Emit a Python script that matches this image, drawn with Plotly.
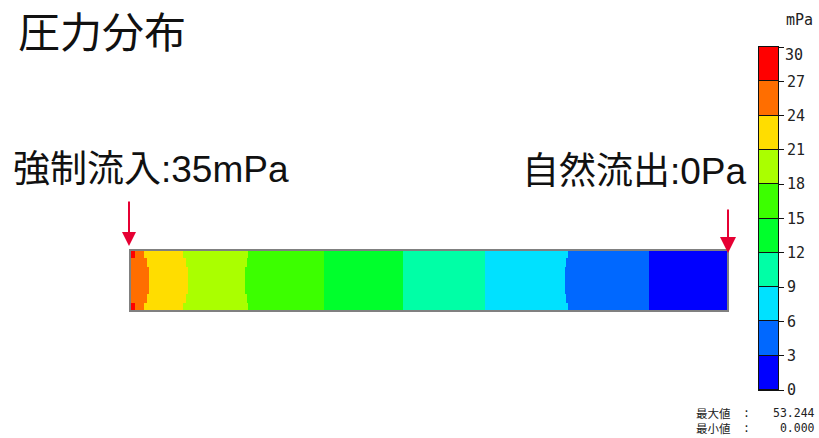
import plotly.graph_objects as go

W, H = 819, 438

# ---------------- data ----------------
# pressure bands (lower bound, mPa) and their colours
band_lo = [0, 3, 6, 9, 12, 15, 18, 21, 24, 27]
band_colors = ["#0000FF", "#0068FF", "#00E1FF", "#00FFA6", "#00FF2C",
               "#3CFF00", "#AAFF00", "#FFDD00", "#FF6E00", "#FF0000"]
tick_vals = [0, 3, 6, 9, 12, 15, 18, 21, 24, 27, 30]
tick_text = ["0", "3", "6", "9", "12", "15", "18", "21", "24", "27", ""]
band_step = 3

# channel (mm): row edges across the height
chan_len = 200
row_edges = [0, 2.3, 5.5, 14.5, 17.7, 20]
# per row: end position (mm) of each pressure band along the channel, and band lower bound
corner_ends = [1.5, 4.2, 17.6, 39.1, 64.6, 91.4, 118.9, 146.5, 173.7, 200]
corner_bands = [27, 24, 21, 18, 15, 12, 9, 6, 3, 0]
edge_ends = [5.2, 18.3, 38.8, 64.6, 91.4, 118.9, 146.1, 173.7, 200]
edge_bands = [24, 21, 18, 15, 12, 9, 6, 3, 0]
mid_ends = [6.2, 19.0, 38.4, 64.6, 91.4, 118.9, 145.5, 173.7, 200]
mid_bands = [24, 21, 18, 15, 12, 9, 6, 3, 0]
rows = [(corner_ends, corner_bands), (edge_ends, edge_bands), (mid_ends, mid_bands),
        (edge_ends, edge_bands), (corner_ends, corner_bands)]

stat_labels = ["最大値", "最小値"]
stat_values = ["53.244", "0.000"]

# ---------------- build grid ----------------
x_edges = sorted(set([0.0] + corner_ends + edge_ends + mid_ends))
z = []
for ends, bands in rows:
    row = []
    for i in range(len(x_edges) - 1):
        xc = 0.5 * (x_edges[i] + x_edges[i + 1])
        for e, b in zip(ends, bands):
            if xc <= e:
                row.append(b + band_step / 2)
                break
    z.append(row)

cscale = []
n = len(band_colors)
for i, c in enumerate(band_colors):
    cscale.append([i / n, c])
    cscale.append([(i + 1) / n, c])

fig = go.Figure()
fig.add_trace(go.Heatmap(x=x_edges, y=row_edges, z=z, zmin=0, zmax=30,
                         colorscale=cscale, showscale=False, hoverinfo="skip",
                         xaxis="x", yaxis="y"))
fig.add_trace(go.Heatmap(x=[0, 1], y=tick_vals, z=[[lo + band_step / 2] for lo in band_lo],
                         zmin=0, zmax=30, colorscale=cscale, showscale=False,
                         ygap=1, hoverinfo="skip", xaxis="x2", yaxis="y2"))

def px(x):
    return x / W

def py(y):
    return 1 - y / H

mono = "DejaVu Sans Mono, Noto Sans CJK JP"
cjk = "Noto Sans CJK JP"
jp = "Liberation Sans, Noto Sans CJK JP"

fig.update_layout(
    width=W, height=H, margin=dict(l=0, r=0, t=0, b=0, autoexpand=False),
    paper_bgcolor="white", plot_bgcolor="white", showlegend=False,
    xaxis=dict(domain=[px(131), px(727)], range=[0, chan_len], showgrid=False,
               zeroline=False, showticklabels=False, ticks="", automargin=False,
               showline=True, mirror=True, linecolor="#808080", linewidth=2),
    yaxis=dict(domain=[py(310), py(251)], range=[0, 20], showgrid=False,
               zeroline=False, showticklabels=False, ticks="", automargin=False,
               showline=True, mirror=True, linecolor="#808080", linewidth=2),
    xaxis2=dict(domain=[px(759), px(778)], range=[0, 1], anchor="y2", showgrid=False,
                zeroline=False, showticklabels=False, ticks="", automargin=False,
                showline=True, mirror=True, linecolor="#111", linewidth=1),
    yaxis2=dict(domain=[py(390), py(47)], range=[0, 30], anchor="x2", side="right",
                showgrid=False, zeroline=False, tickvals=tick_vals, ticktext=tick_text,
                ticks="outside", ticklen=5, tickwidth=1, tickcolor="#111", automargin=False,
                tickfont=dict(family=mono, size=15, color="#222"),
                showline=True, mirror=True, linecolor="#111", linewidth=1),
)

fig.add_shape(type="rect", xref="x2 domain", yref="y2 domain", x0=0, x1=1, y0=0, y1=1,
              fillcolor="#111", line=dict(width=0), layer="below")

ann = []
ann.append(dict(text="圧力分布", x=px(16), y=py(34), xanchor="left", yanchor="middle",
                font=dict(family=jp, size=42, color="#111")))
ann.append(dict(text="強制流入:35mPa", x=px(11), y=py(170), xanchor="left", yanchor="middle",
                font=dict(family=jp, size=37, color="#111")))
ann.append(dict(text="自然流出:0Pa", x=px(749), y=py(171), xanchor="right", yanchor="middle",
                font=dict(family=jp, size=37, color="#111")))
ann.append(dict(text="mPa", x=px(784), y=py(20), xanchor="left", yanchor="middle",
                font=dict(family=mono, size=15, color="#222")))
ann.append(dict(text="30", x=px(783), y=py(55), xanchor="left", yanchor="middle",
                font=dict(family=mono, size=15, color="#222")))
ann.append(dict(text="<br>".join(stat_labels), x=px(694), y=py(420), xanchor="left",
                yanchor="middle", align="left",
                font=dict(family=cjk, size=11.5, color="#222")))
ann.append(dict(text="<br>".join([":"] * len(stat_labels)), x=px(746), y=py(420),
                xanchor="center", yanchor="middle", align="center",
                font=dict(family=mono, size=11.5, color="#222")))
ann.append(dict(text="<br>".join(stat_values), x=px(817), y=py(420), xanchor="right",
                yanchor="middle", align="right",
                font=dict(family=mono, size=11.5, color="#222")))
for a in ann:
    a.update(xref="paper", yref="paper", showarrow=False)

# inlet / outlet arrows
arrow_col = "#E60033"
ann.append(dict(x=px(129), y=py(246), ax=0, ay=-46, xref="paper", yref="paper",
                showarrow=True, arrowhead=2, arrowsize=1.4, arrowwidth=2,
                arrowcolor=arrow_col, text=""))
ann.append(dict(x=px(728), y=py(253), ax=0, ay=-45, xref="paper", yref="paper",
                showarrow=True, arrowhead=2, arrowsize=1.6, arrowwidth=2,
                arrowcolor=arrow_col, text=""))
fig.update_layout(annotations=ann)

fig.write_html("out.html")
